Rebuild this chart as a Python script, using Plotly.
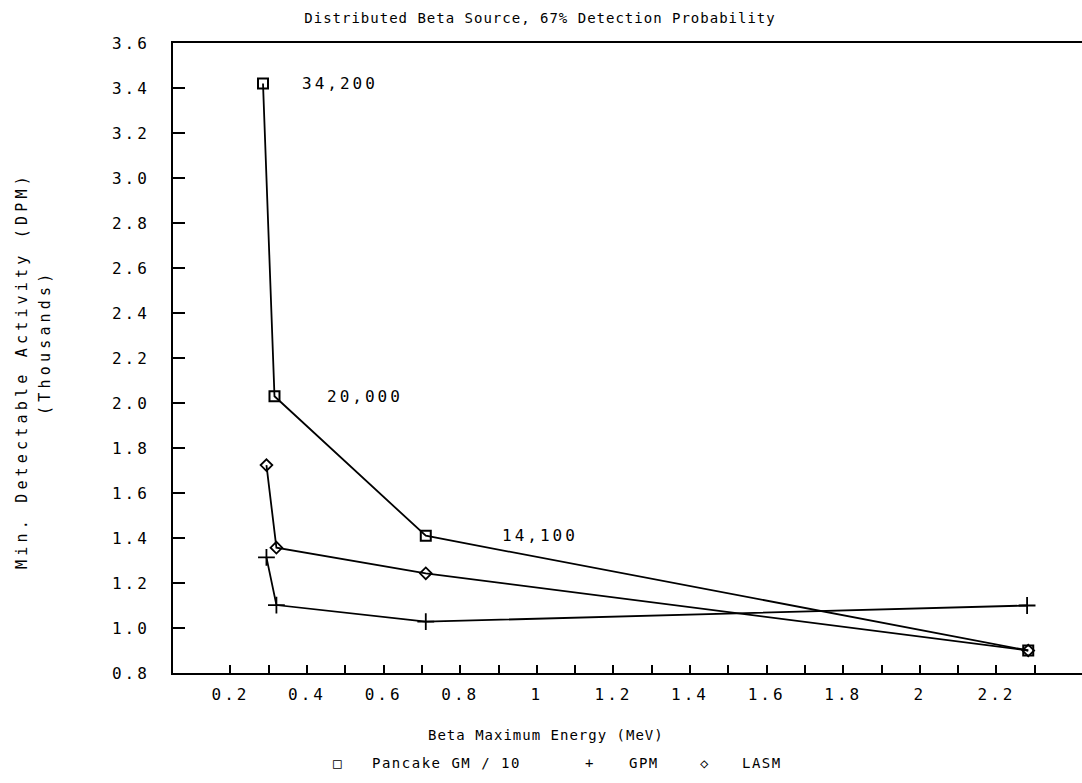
import plotly.graph_objects as go

# ---- data ----
pancake_x = [0.285, 0.315, 0.71, 2.283]
pancake_y = [3.42, 2.03, 1.41, 0.90]
pancake_labels = ["34,200", "20,000", "14,100"]

gpm_x = [0.294, 0.32, 0.71, 2.28]
gpm_y = [1.314, 1.102, 1.028, 1.10]

lasm_x = [0.294, 0.32, 0.71, 2.283]
lasm_y = [1.724, 1.357, 1.243, 0.90]

x_tickvals = [round(0.2 + 0.1 * i, 1) for i in range(22)]
x_ticktext = ["0.2", "", "0.4", "", "0.6", "", "0.8", "", "1", "", "1.2", "",
              "1.4", "", "1.6", "", "1.8", "", "2", "", "2.2", ""]
y_tickvals = [round(0.8 + 0.2 * i, 1) for i in range(15)]
y_ticktext = ["%.1f" % v for v in y_tickvals]

# ---- layout geometry ----
W, H = 1082, 783
L, R, T, B = 173, 0, 43, 110
PW, PH = W - L - R, H - T - B
MONO = "DejaVu Sans Mono"


def ls(text, sp):
    return '<span style="letter-spacing:%gpx">%s</span>' % (sp, text)


def px(xp):
    return (xp - L) / PW


def py(yp):
    return (H - B - yp) / PH


line_style = dict(color="black", width=1.8)

fig = go.Figure()
fig.add_trace(go.Scatter(
    x=pancake_x, y=pancake_y, mode="lines+markers", name="Pancake GM / 10",
    line=line_style,
    marker=dict(symbol="square-open", size=10, color="black", line=dict(width=2)),
    showlegend=False))
fig.add_trace(go.Scatter(
    x=gpm_x, y=gpm_y, mode="lines+markers", name="GPM",
    line=line_style,
    marker=dict(symbol="cross-thin-open", size=12, color="black", line=dict(width=1.8, color="black")),
    showlegend=False))
fig.add_trace(go.Scatter(
    x=lasm_x, y=lasm_y, mode="lines+markers", name="LASM",
    line=line_style,
    marker=dict(symbol="diamond-open", size=9, color="black", line=dict(width=1.8)),
    showlegend=False))

annotations = []
shifts = [37, 51, 74]
for xv, yv, lab, sh in zip(pancake_x, pancake_y, pancake_labels, shifts):
    annotations.append(dict(x=xv, y=yv, xref="x", yref="y", text=ls(lab, 3),
                            showarrow=False, xanchor="left", yanchor="middle",
                            xshift=sh, font=dict(family=MONO, size=16, color="black")))

# y-axis title (two lines)
annotations.append(dict(x=px(22), y=py(371), xref="paper", yref="paper",
                        text=ls("Min. Detectable Activity (DPM)", 4.2), textangle=-90,
                        showarrow=False, xanchor="center", yanchor="middle",
                        font=dict(family=MONO, size=15, color="black")))
annotations.append(dict(x=px(45), y=py(342), xref="paper", yref="paper",
                        text=ls("(Thousands)", 4.2), textangle=-90,
                        showarrow=False, xanchor="center", yanchor="middle",
                        font=dict(family=MONO, size=15, color="black")))

# x-axis title
annotations.append(dict(x=px(546), y=py(735), xref="paper", yref="paper",
                        text=ls("Beta Maximum Energy (MeV)", 1), showarrow=False,
                        xanchor="center", yanchor="middle",
                        font=dict(family=MONO, size=14, color="black")))

# legend row
leg_font = dict(family=MONO, size=14, color="black")
for xp, txt, anch in [(338, "□", "center"), (370, "Pancake GM / 10", "left"),
                      (590, "+", "center"), (627, "GPM", "left"),
                      (705, "◇", "center"), (740, "LASM", "left")]:
    annotations.append(dict(x=px(xp), y=py(763), xref="paper", yref="paper",
                            text=ls(txt, 1.5), showarrow=False, xanchor=anch,
                            yanchor="middle", font=leg_font))

fig.update_layout(
    width=W, height=H,
    margin=dict(l=L, r=R, t=T, b=B, pad=0),
    paper_bgcolor="white", plot_bgcolor="white",
    title=dict(text=ls("Distributed Beta Source, 67% Detection Probability", 1),
               x=540 / W, xref="container", xanchor="center",
               y=1 - 18 / H, yref="container", yanchor="middle",
               font=dict(family=MONO, size=14, color="black")),
    annotations=annotations,
    xaxis=dict(range=[0.05, 0.05 + PW / 383.0], showgrid=False, zeroline=False,
               showline=True, linecolor="black", linewidth=1.8, mirror=True,
               ticks="inside", ticklen=8, tickwidth=1.5, tickcolor="black",
               tickvals=x_tickvals, ticktext=[ls(t, 3) for t in x_ticktext],
               tickfont=dict(family=MONO, size=16, color="black"),
               ticklabelstandoff=6),
    yaxis=dict(range=[0.8, 3.6], showgrid=False, zeroline=False,
               showline=True, linecolor="black", linewidth=1.8,
               ticks="inside", ticklen=12, tickwidth=1.5, tickcolor="black",
               tickvals=y_tickvals, ticktext=[ls(t, 3) for t in y_ticktext],
               tickfont=dict(family=MONO, size=16, color="black"),
               ticklabelstandoff=18),
)

fig.write_html("out.html")
